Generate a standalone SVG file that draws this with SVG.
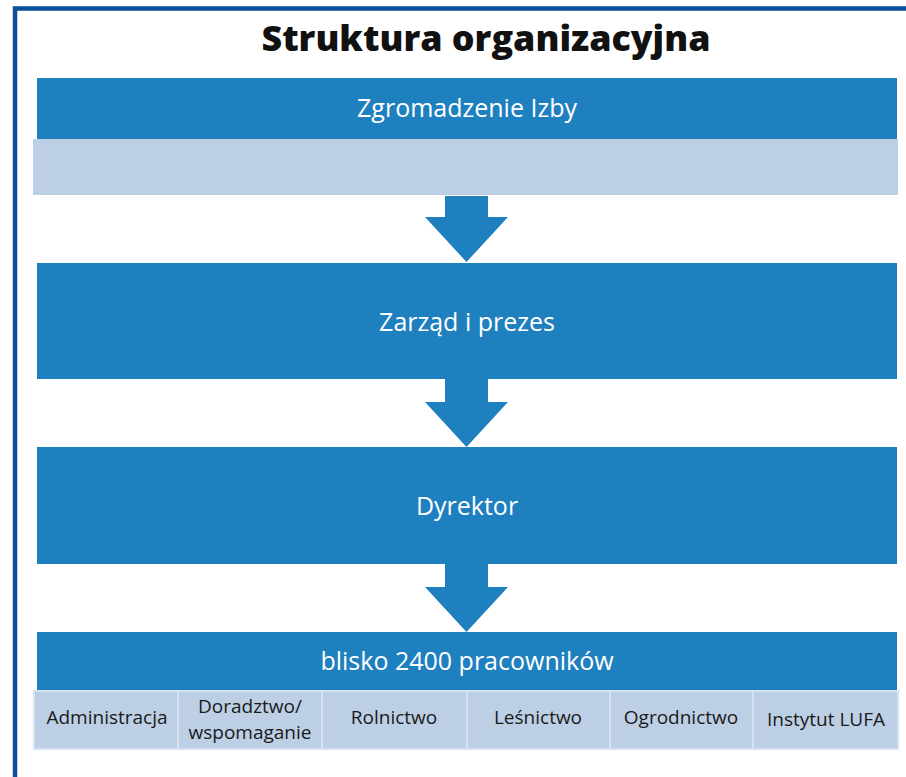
<svg xmlns="http://www.w3.org/2000/svg" width="906" height="777" viewBox="0 0 906 777">
  <style>
    .frame { fill: none; stroke: #0b4f9c; stroke-width: 4.5; }
    .title { font-family: "Open Sans", "Liberation Sans", sans-serif; font-weight: 800; font-size: 35.8px; fill: #111; text-anchor: middle; }
    .box { fill: #1f80bf; }
    .sub { fill: #bccfe4; }
    .cell { fill: #bccfe4; stroke: #d6e2ef; stroke-width: 2; }
    .label { font-family: "Open Sans", "Liberation Sans", sans-serif; font-size: 25px; fill: #ffffff; text-anchor: middle; }
    .small { font-family: "Open Sans", "Liberation Sans", sans-serif; font-size: 19px; fill: #1a1a1a; text-anchor: middle; }
    .arrow { fill: #1f80bf; }
  </style>

  <!-- frame (top and left edges) -->
  <path class="frame" d="M15 777 V8.5 H906"/>

  <text class="title" x="486" y="51">Struktura organizacyjna</text>

  <g id="zgromadzenie">
    <rect class="box" x="37" y="78" width="860" height="61"/>
    <rect class="sub" x="33" y="139" width="865" height="56"/>
    <text class="label" x="467" y="117">Zgromadzenie Izby</text>
  </g>

  <g id="zarzad">
    <rect class="box" x="37" y="263" width="860" height="116"/>
    <text class="label" x="467" y="331">Zarząd i prezes</text>
  </g>

  <g id="dyrektor">
    <rect class="box" x="37" y="447" width="860" height="117"/>
    <text class="label" x="467" y="515">Dyrektor</text>
  </g>

  <g id="pracownicy">
    <rect class="box" x="37" y="632" width="860" height="59"/>
    <text class="label" x="467" y="670">blisko 2400 pracowników</text>
  </g>

  <g id="administracja">
    <rect class="cell" x="34" y="691" width="144" height="58"/>
    <text class="small" x="107" y="724">Administracja</text>
  </g>
  <g id="doradztwo">
    <rect class="cell" x="178" y="691" width="144" height="58"/>
    <text class="small" x="250" y="713">Doradztwo/</text>
    <text class="small" x="250" y="739">wspomaganie</text>
  </g>
  <g id="rolnictwo">
    <rect class="cell" x="322" y="691" width="145" height="58"/>
    <text class="small" x="394" y="724">Rolnictwo</text>
  </g>
  <g id="lesnictwo">
    <rect class="cell" x="467" y="691" width="143" height="58"/>
    <text class="small" x="538" y="724">Leśnictwo</text>
  </g>
  <g id="ogrodnictwo">
    <rect class="cell" x="610" y="691" width="143" height="58"/>
    <text class="small" x="681" y="724">Ogrodnictwo</text>
  </g>
  <g id="lufa">
    <rect class="cell" x="753" y="691" width="145" height="58"/>
    <text class="small" x="826" y="726">Instytut LUFA</text>
  </g>

  <g id="connectors">
    <polygon class="arrow" points="445,196 488,196 488,217 508,217 466.5,262 425,217 445,217"/>
    <polygon class="arrow" points="445,379 488,379 488,402 508,402 466.5,447 425,402 445,402"/>
    <polygon class="arrow" points="445,564 488,564 488,587 508,587 466.5,632 425,587 445,587"/>
  </g>
</svg>
